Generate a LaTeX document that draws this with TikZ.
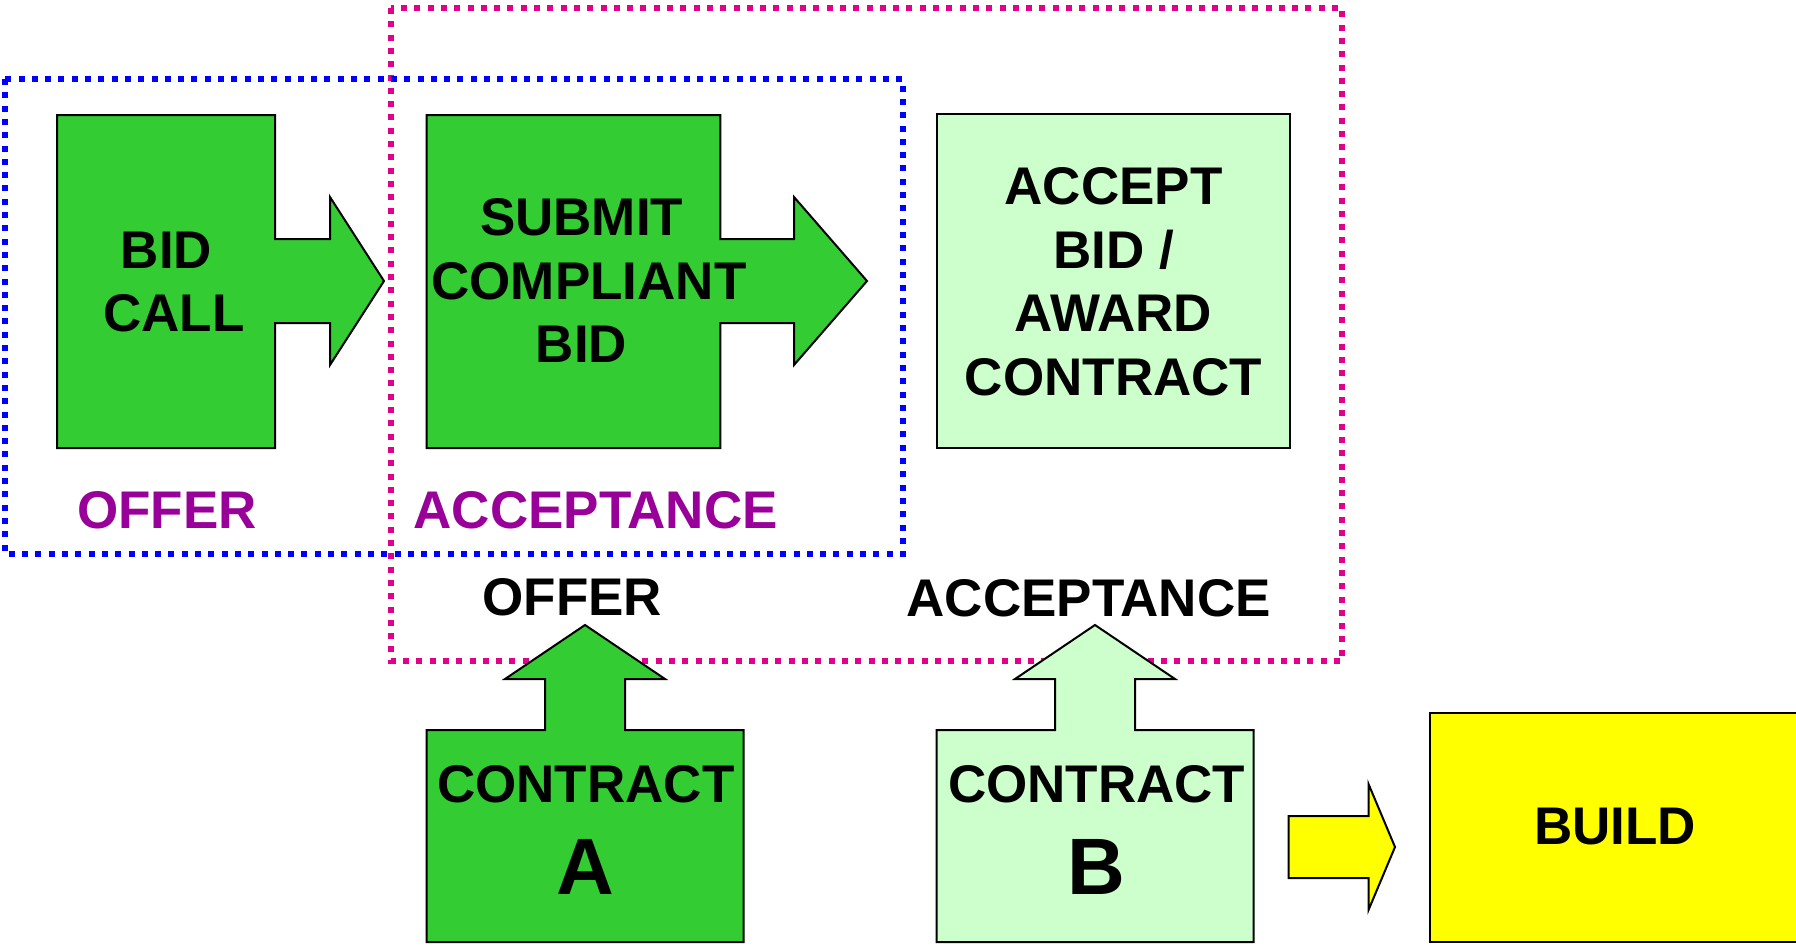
\documentclass[tikz,border=0pt]{standalone}
\usepackage{fontspec}
\setmainfont{Liberation Sans}
\usepackage{tikz}
\usetikzlibrary{positioning,arrows.meta}

\definecolor{bidgreen}{RGB}{51,204,51}
\definecolor{palegreen}{RGB}{204,255,204}
\definecolor{buildyellow}{RGB}{255,255,0}
\definecolor{offerpurple}{RGB}{153,0,153}
\definecolor{framepink}{RGB}{224,0,140}

\begin{document}
\begin{tikzpicture}[x=1pt,y=-1pt,
    block/.style={draw=black, line width=2pt},
    frame/.style={line width=6pt, dash pattern=on 6pt off 7.3pt},
    lbl/.style={font=\fontsize{53}{63.5}\selectfont\bfseries, align=center, inner sep=0pt},
    big/.style={font=\fontsize{80}{96}\selectfont\bfseries, inner sep=0pt},
    ]
\useasboundingbox (0,0) rectangle (1796,948);

% frames
\draw[frame, framepink] (391,8) rectangle (1342,661);
\draw[frame, blue] (5,79) rectangle (903,554);

% boxes with arrows to the right
\foreach \l/\r/\h/\t in {57/275/330/384, 426.5/720.4/794/867}
    \draw[block, fill=bidgreen] (\l,115) -- (\r,115) -- (\r,239) -- (\h,239) -- (\h,197)
        -- (\t,281) -- (\h,365) -- (\h,323) -- (\r,323) -- (\r,448) -- (\l,448) -- cycle;

\draw[block, fill=palegreen] (937,114) rectangle (1289.5,448);

% contracts with arrows up
\foreach \cx/\col in {585/bidgreen, 1095/palegreen}
    \draw[block, fill=\col] (\cx-158.5,942) -- (\cx-158.5,730) -- (\cx-40,730) -- (\cx-40,679)
        -- (\cx-80,679) -- (\cx,625) -- (\cx+80,679) -- (\cx+40,679) -- (\cx+40,730)
        -- (\cx+158.5,730) -- (\cx+158.5,942) -- cycle;

% build
\draw[block, fill=buildyellow] (1288.5,816) -- (1368.5,816) -- (1368.5,784) -- (1395,847)
    -- (1368.5,910) -- (1368.5,878) -- (1288.5,878) -- cycle;
\draw[block, fill=buildyellow] (1810,713) -- (1429.5,713) -- (1429.5,942) -- (1810,942);

\node[lbl] (bidcall) at (174,282) {BID\kern.28em\\CALL};
\node[lbl] (submit) at (589,280.5) {SUBMIT\kern.28em\\COMPLIANT\\BID\kern.28em};
\node[lbl] (accept) at (1113.6,281.7) {ACCEPT\\BID /\\AWARD\\CONTRACT};

\node[lbl, anchor=base, text=offerpurple] (offerlbl) at (167,528.5) {OFFER};
\node[lbl, anchor=base, text=offerpurple] (acceptlbl) at (595.6,528.5) {ACCEPTANCE};
\node[lbl, anchor=base] (offerA) at (572.4,615.5) {OFFER};
\node[lbl, anchor=base] (acceptB) at (1088.7,616.5) {ACCEPTANCE};

\node[lbl, anchor=base] (contractA) at (585.8,802) {CONTRACT};
\node[big, anchor=base] (letterA) at (585,894) {A};
\node[lbl, anchor=base] (contractB) at (1096.7,802) {CONTRACT};
\node[big, anchor=base] (letterB) at (1096,894) {B};

\node[lbl, anchor=base] (build) at (1615,844.5) {BUILD};

\end{tikzpicture}
\end{document}
